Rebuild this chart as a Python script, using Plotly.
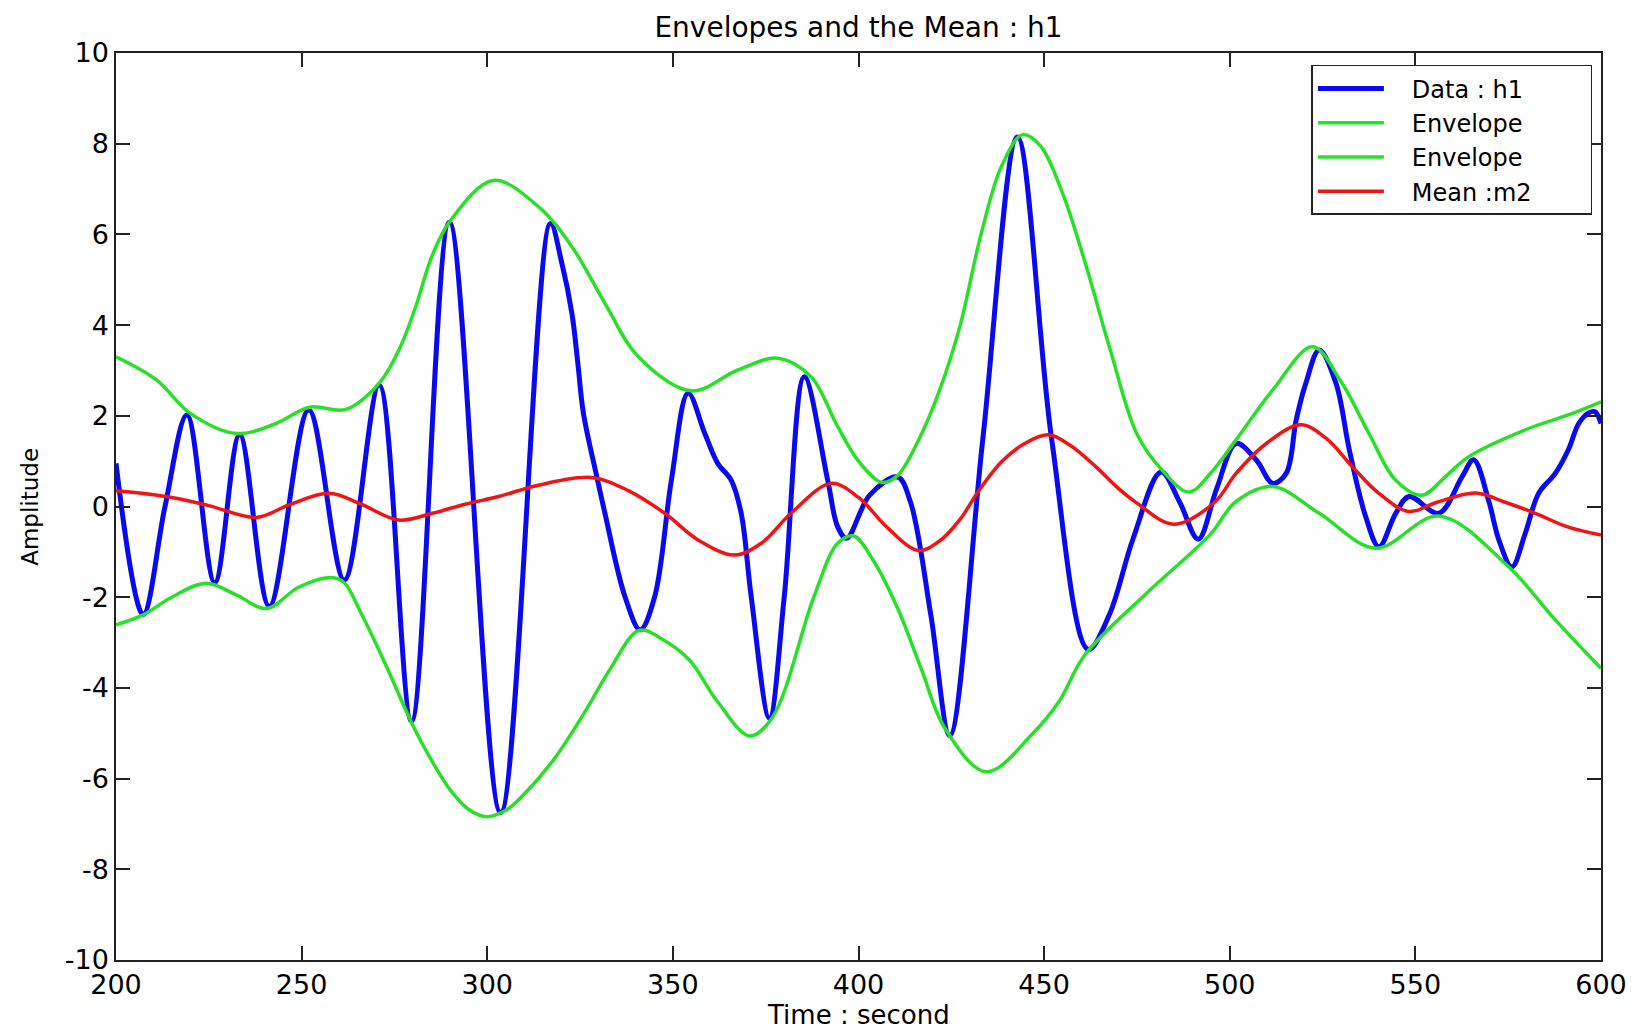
import plotly.graph_objects as go

# Data : h1
h1_t = [200.0, 207.3, 213.2, 219.1, 226.6, 233.3, 241.3, 251.9, 261.5, 270.9,
        279.6, 289.8, 303.6, 317.0, 320.1, 322.8, 324.4, 325.9, 329.5, 331.7,
        337.1, 341.2, 345.1, 349.6, 354.1, 358.6, 362.1, 365.7, 368.4, 371.1,
        376.0, 380.0, 385.4, 391.7, 394.4, 396.8, 403.0, 410.5, 414.0, 419.5,
        424.6, 433.5, 442.8, 452.0, 461.9, 467.5, 474.0, 481.5, 486.5, 491.5,
        496.5, 501.7, 507.1, 511.6, 515.2, 517.9, 520.5, 524.1, 528.6, 532.2,
        536.6, 540.2, 544.7, 548.3, 556.3, 562.6, 565.7, 569.7, 572.5, 576.0,
        579.6, 583.2, 587.7, 591.2, 594.0, 596.6, 598.4, 600.0]
h1_v = [0.95, -2.38, 0.0, 2.02, -1.68, 1.58, -2.2, 2.13, -1.62, 2.68,
        -4.73, 6.27, -6.75, 6.24, 5.36, 4.26, 3.16, 2.06, 0.66, -0.15,
        -1.99, -2.72, -1.99, 0.58, 2.50, 1.61, 0.95, 0.58, -0.15, -1.99,
        -4.67, -1.99, 2.86, 0.58, -0.45, -0.7, 0.25, 0.65, 0.1, -2.4,
        -5.05, 1.5, 8.15, 1.5, -3.15, -2.4, -0.7, 0.76, 0.1, -0.72,
        0.4, 1.39, 1.03, 0.51, 0.73, 1.91, 2.72, 3.45, 2.72, 1.25,
        -0.22, -0.89, -0.15, 0.22, -0.15, 0.66, 1.03, 0.14, -0.74, -1.33,
        -0.59, 0.29, 0.73, 1.25, 1.83, 2.06, 2.09, 1.83]

# upper envelope
up_t = [200.0, 210.9, 219.9, 232.4, 243.1, 252.1, 261.9, 270.9, 276.2, 280.7,
        285.0, 289.8, 301.6, 313.8, 322.8, 331.7, 340.7, 355.0, 367.5, 378.3,
        387.2, 394.4, 400.0, 406.3, 410.5, 416.1, 422.0, 427.4, 433.0, 438.5,
        444.2, 449.0, 455.0, 461.0, 468.0, 475.0, 482.0, 489.0, 495.0, 501.7,
        511.6, 522.3, 530.0, 537.5, 544.7, 551.8, 558.1, 564.4, 580.5, 591.2,
        600.0]
up_v = [3.30, 2.79, 2.06, 1.61, 1.83, 2.19, 2.14, 2.72, 3.45, 4.4,
        5.5, 6.27, 7.19, 6.61, 5.73, 4.48, 3.30, 2.55, 3.01, 3.27,
        2.86, 1.76, 1.0, 0.53, 0.68, 1.45, 2.6, 4.0, 6.0, 7.5,
        8.2, 7.95, 6.9, 5.39, 3.4, 1.6, 0.78, 0.32, 0.75, 1.47,
        2.57, 3.52, 2.75, 1.61, 0.58, 0.25, 0.66, 1.1, 1.72, 2.02,
        2.31]

# lower envelope
lo_t = [200.0, 207.3, 215.0, 224.3, 232.4, 240.5, 249.4, 258.5, 261.5, 266.0,
        272.7, 279.8, 285.0, 290.0, 295.0, 300.0, 305.0, 309.5, 318.0, 326.3,
        333.0, 340.9, 347.0, 354.4, 362.0, 370.7, 376.8, 388.0, 394.4, 398.7,
        404.0, 410.5, 417.0, 423.2, 434.4, 447.0, 454.0, 461.0, 477.9, 494.7,
        501.7, 511.6, 524.1, 539.3, 556.3, 575.1, 587.7, 600.0]
lo_v = [-2.61, -2.39, -2.0, -1.69, -1.95, -2.25, -1.77, -1.57, -1.68, -2.35,
        -3.5, -4.8, -5.6, -6.25, -6.68, -6.84, -6.7, -6.38, -5.57, -4.53,
        -3.6, -2.73, -2.92, -3.38, -4.3, -5.06, -4.65, -1.99, -0.81, -0.65,
        -1.19, -2.24, -3.6, -4.88, -5.85, -5.0, -4.3, -3.27, -1.89, -0.62,
        0.11, 0.44, -0.15, -0.92, -0.21, -1.33, -2.5, -3.57]

# Mean : m2
m2_t = [200.0, 213.6, 225.0, 237.8, 247.0, 257.4, 266.0, 276.2, 285.2, 294.0,
        303.1, 313.8, 328.1, 338.0, 347.8, 357.0, 366.6, 374.0, 381.8, 392.6,
        400.0, 407.7, 416.1, 422.0, 427.4, 432.0, 438.6, 445.0, 451.2, 457.0,
        463.9, 470.0, 475.1, 484.9, 496.0, 501.7, 510.0, 519.2, 526.0, 533.0,
        540.0, 548.3, 556.0, 566.2, 574.0, 582.3, 591.0, 600.0]
m2_v = [0.35, 0.22, 0.02, -0.24, 0.05, 0.29, 0.05, -0.30, -0.15, 0.05,
        0.22, 0.47, 0.64, 0.35, -0.15, -0.75, -1.07, -0.8, -0.15, 0.51,
        0.2, -0.46, -0.97, -0.75, -0.28, 0.3, 0.99, 1.4, 1.58, 1.35,
        0.88, 0.4, 0.07, -0.39, 0.1, 0.73, 1.4, 1.80, 1.5, 0.88,
        0.3, -0.11, 0.1, 0.30, 0.1, -0.15, -0.45, -0.63]

x_ticks = [200, 250, 300, 350, 400, 450, 500, 550, 600]
y_ticks = [-10, -8, -6, -4, -2, 0, 2, 4, 6, 8, 10]

FONT = "DejaVu Sans"
NB = '\u00a0'  # padding inside the legend box, like the MATLAB legend

fig = go.Figure()
fig.add_trace(go.Scatter(x=h1_t, y=h1_v, name=NB * 3 + 'Data : h1', mode='lines',
                         line=dict(color='#0a0af0', width=5, shape='spline', smoothing=1)))
fig.add_trace(go.Scatter(x=up_t, y=up_v, name=NB * 3 + 'Envelope', mode='lines',
                         line=dict(color='#28e028', width=3.5, shape='spline', smoothing=1)))
fig.add_trace(go.Scatter(x=lo_t, y=lo_v, name=NB * 3 + 'Envelope', mode='lines',
                         line=dict(color='#28e028', width=3.5, shape='spline', smoothing=1)))
fig.add_trace(go.Scatter(x=m2_t, y=m2_v, name=NB * 3 + 'Mean :m2' + NB * 7, mode='lines',
                         line=dict(color='#f01414', width=3.5, shape='spline', smoothing=1)))

axis_common = dict(showgrid=False, zeroline=False, showline=True, linecolor='#222222',
                   linewidth=1.5, mirror='ticks', ticks='inside', ticklen=14,
                   tickwidth=1.5, tickcolor='#222222',
                   tickfont=dict(family=FONT, size=27, color='black'))

# page body has an 8px margin, so the figure is 8px smaller than the window
fig.update_layout(
    width=1631, height=1022,
    margin=dict(l=108, r=33, t=45, b=70),
    paper_bgcolor='white', plot_bgcolor='white',
    font=dict(family=FONT, color='black'),
    title=dict(text='Envelopes and the Mean : h1', x=0.5, xref='paper',
               y=1 - 19 / 1022, yref='container', yanchor='middle',
               font=dict(family=FONT, size=28, color='black')),
    xaxis=dict(range=[200, 600], tickvals=x_ticks,
               ticktext=[str(v) for v in x_ticks], **axis_common),
    yaxis=dict(range=[-10, 10], tickvals=y_ticks,
               ticktext=[str(v) for v in y_ticks], **axis_common),
    legend=dict(x=0.805, y=0.9868, xanchor='left', yanchor='top',
                bgcolor='white', bordercolor='#222222', borderwidth=1.5,
                font=dict(family=FONT, size=24, color='black'), itemwidth=66),
    annotations=[
        dict(text='Time : second', xref='paper', yref='paper', x=0.5, y=-0.0606,
             xanchor='center', yanchor='middle', showarrow=False,
             font=dict(family=FONT, size=26, color='black')),
        dict(text='Amplitude', xref='paper', yref='paper', x=-0.0584, y=0.5,
             xanchor='center', yanchor='middle', showarrow=False, textangle=-90,
             font=dict(family=FONT, size=23, color='black')),
    ],
)

fig.write_html("out.html")
